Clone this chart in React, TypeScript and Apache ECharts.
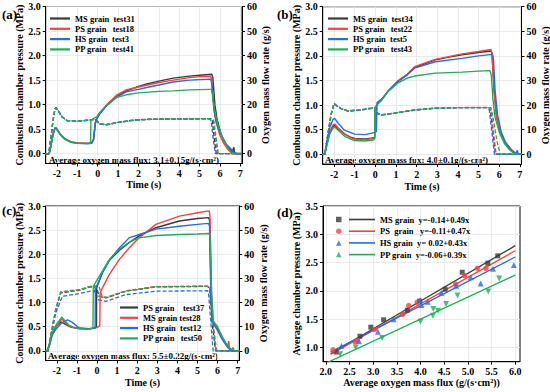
import React, { useEffect, useRef } from 'react';
import * as echarts from 'echarts';

const FONT = '"Liberation Serif", "Times New Roman", serif';
const C_MS = '#3a3a3a';
const C_PS = '#ff3d3d';
const C_HS = '#1f6fe6';
const C_PP = '#1fae55';

// tick values
const timeTicks = [-2, -1, 0, 1, 2, 3, 4, 5, 6, 7];
const pressureTicks = [0, 0.5, 1, 1.5, 2, 2.5, 3];
const flowTicks = [0, 10, 20, 30, 40, 50, 60];
const fluxTicks = [2, 2.5, 3, 3.5, 4, 4.5, 5, 5.5, 6];
const avgPressureTicks = [1, 1.5, 2, 2.5, 3, 3.5];

// ---------- panel (a): 3.1 g/(s·cm²) ----------
const aMS = [[-2.55,0],[-2.38,0],[-2.3,0.15],[-2.2,0.38],[-2.1,0.52],[-2.05,0.53],[-1.95,0.47],[-1.8,0.38],[-1.6,0.3],[-1.3,0.24],[-1.0,0.22],[-0.5,0.21],[-0.3,0.22],[-0.2,0.3],[-0.12,0.62],[-0.05,0.72],[0.1,0.82],[0.45,0.99],[0.95,1.17],[1.4,1.28],[2,1.37],[2.4,1.42],[3,1.48],[3.7,1.54],[4.5,1.58],[5,1.6],[5.6,1.62],[5.65,1.55],[5.75,1.0],[5.85,0.72],[6.05,0.4],[6.25,0.22],[6.4,0.13],[6.6,0.04],[6.68,0.13],[6.72,0.02],[6.85,0],[7.08,0]];
const aPS = [[-2.55,0],[-2.38,0],[-2.3,0.15],[-2.2,0.38],[-2.1,0.52],[-2.05,0.53],[-1.95,0.47],[-1.8,0.38],[-1.6,0.3],[-1.3,0.24],[-1.0,0.22],[-0.5,0.21],[-0.3,0.22],[-0.2,0.3],[-0.12,0.62],[-0.05,0.72],[0.1,0.83],[0.45,1.0],[0.95,1.2],[1.4,1.3],[2,1.36],[3,1.45],[3.7,1.5],[4.5,1.55],[5,1.57],[5.55,1.58],[5.6,1.45],[5.7,0.9],[5.8,0.65],[6.0,0.37],[6.2,0.2],[6.4,0.08],[6.55,0.02],[6.7,0],[7.08,0]];
const aHS = [[-2.55,0],[-2.38,0],[-2.3,0.15],[-2.2,0.38],[-2.1,0.51],[-2.05,0.52],[-1.95,0.46],[-1.8,0.37],[-1.6,0.29],[-1.3,0.23],[-1.0,0.21],[-0.5,0.2],[-0.3,0.21],[-0.2,0.28],[-0.12,0.6],[-0.05,0.7],[0.1,0.81],[0.45,0.98],[0.95,1.16],[1.4,1.26],[2,1.31],[2.4,1.35],[3,1.4],[3.7,1.46],[4.5,1.5],[5,1.51],[5.55,1.52],[5.6,1.42],[5.7,0.92],[5.8,0.68],[6.0,0.42],[6.3,0.2],[6.6,0.07],[6.75,0],[7.08,0]];
const aPP = [[-2.55,0],[-2.38,0],[-2.3,0.14],[-2.2,0.37],[-2.1,0.5],[-2.05,0.51],[-1.95,0.46],[-1.8,0.37],[-1.6,0.29],[-1.3,0.23],[-1.0,0.21],[-0.5,0.21],[-0.35,0.21],[-0.33,0.68],[-0.2,0.72],[-0.05,0.75],[0.1,0.84],[0.45,0.99],[0.95,1.15],[1.4,1.2],[2,1.24],[3,1.27],[3.7,1.28],[4.5,1.3],[5.5,1.31],[5.58,1.31],[5.63,1.2],[5.75,0.85],[5.9,0.6],[6.1,0.35],[6.3,0.18],[6.5,0.05],[6.65,0.01],[7.08,0.01]];
const aMSflow = [[-2.55,0],[-2.4,0],[-2.3,6],[-2.2,13],[-2.1,18],[-2.05,18.9],[-1.95,17.8],[-1.75,15.1],[-1.5,13.5],[-1.0,13.3],[-0.4,13.7],[-0.15,14.1],[-0.05,13.5],[0.12,12.1],[0.45,11.8],[0.95,12.7],[1.75,13.7],[2.6,14.1],[4,14.2],[5.55,14.3],[5.62,13.5],[5.72,6],[5.82,0],[7.08,0]];
const aPSflow = [[-2.55,0],[-2.4,0],[-2.3,6],[-2.2,13],[-2.1,18],[-2.05,18.7],[-1.95,17.6],[-1.75,15],[-1.5,13.4],[-1.0,13.2],[-0.4,13.6],[-0.15,14],[-0.05,13.4],[0.12,12],[0.45,11.8],[0.95,12.6],[1.75,13.6],[2.6,14],[4,14.2],[5.6,14.2],[5.68,13.2],[5.78,6],[5.88,0],[7.08,0]];
const aHSflow = [[-2.55,0],[-2.4,0],[-2.3,6],[-2.2,13],[-2.1,18],[-2.05,18.6],[-1.95,17.6],[-1.75,15],[-1.5,13.4],[-1.0,13.3],[-0.4,13.7],[-0.15,14],[-0.05,13.4],[0.12,12.1],[0.45,11.9],[0.95,12.7],[1.75,13.6],[2.6,14],[4,14.1],[5.5,14.2],[5.57,13.2],[5.67,6],[5.77,0],[7.08,0]];
const aPPflow = [[-2.55,0],[-2.4,0],[-2.3,6],[-2.2,13],[-2.1,18],[-2.05,18.8],[-1.95,17.7],[-1.75,15.1],[-1.5,13.5],[-1.0,13.3],[-0.4,13.7],[-0.15,14.1],[-0.05,13.5],[0.12,12.2],[0.45,11.9],[0.95,12.7],[1.75,13.7],[2.6,14.1],[4,14.2],[5.62,14.3],[5.7,13.3],[5.82,6],[5.92,0],[7.08,0]];

// ---------- panel (b): 4.0 g/(s·cm²) ----------
const bMS = [[-2.55,0],[-2.45,0],[-2.35,0.2],[-2.2,0.45],[-2.05,0.57],[-1.95,0.58],[-1.8,0.52],[-1.5,0.41],[-1.2,0.35],[-1.0,0.32],[-0.5,0.31],[-0.1,0.33],[-0.03,0.35],[0.0,0.95],[0.1,1.02],[0.3,1.1],[0.6,1.27],[1.1,1.48],[1.55,1.62],[1.9,1.76],[2.9,1.92],[3.5,1.97],[4.2,2.02],[5.0,2.07],[5.6,2.1],[5.65,2.05],[5.75,1.3],[5.87,0.77],[6.03,0.46],[6.27,0.26],[6.6,0.09],[6.8,0.01],[7.08,0]];
const bPS = [[-2.55,0],[-2.45,0],[-2.35,0.2],[-2.2,0.46],[-2.05,0.6],[-1.95,0.61],[-1.8,0.54],[-1.5,0.42],[-1.2,0.34],[-1.0,0.31],[-0.5,0.3],[-0.1,0.32],[-0.03,0.34],[0.0,0.95],[0.1,1.02],[0.3,1.1],[0.6,1.28],[1.1,1.5],[1.55,1.63],[1.9,1.78],[2.9,1.93],[3.5,1.98],[4.2,2.04],[5.0,2.09],[5.6,2.13],[5.65,2.06],[5.75,1.3],[5.87,0.76],[6.03,0.45],[6.27,0.25],[6.6,0.08],[6.8,0.01],[7.08,0]];
const bHS = [[-2.55,0],[-2.45,0],[-2.35,0.25],[-2.2,0.55],[-2.05,0.71],[-1.97,0.73],[-1.8,0.63],[-1.5,0.49],[-1.0,0.41],[-0.5,0.4],[-0.15,0.43],[0.05,0.46],[0.08,1.05],[0.3,1.12],[0.6,1.27],[1.1,1.48],[1.55,1.62],[1.9,1.75],[2.9,1.88],[4.2,1.95],[5.0,2.0],[5.68,2.03],[5.72,1.95],[5.8,1.3],[5.92,0.8],[6.1,0.45],[6.35,0.2],[6.6,0.07],[6.8,0.02],[6.88,0.08],[6.92,0],[7.08,0]];
const bPP = [[-2.55,0],[-2.45,0],[-2.35,0.18],[-2.2,0.42],[-2.05,0.53],[-1.95,0.55],[-1.8,0.49],[-1.5,0.37],[-1.2,0.31],[-1.0,0.28],[-0.5,0.27],[-0.1,0.29],[-0.03,0.31],[-0.02,0.95],[0.1,1.01],[0.3,1.1],[0.6,1.27],[1.1,1.45],[1.55,1.55],[1.9,1.59],[2.9,1.65],[4.2,1.67],[5.0,1.69],[5.55,1.7],[5.62,1.6],[5.7,1.1],[5.8,0.75],[6.0,0.45],[6.25,0.22],[6.5,0.09],[6.7,0.02],[7.08,0]];
const bMSflow = [[-2.55,0],[-2.45,0],[-2.3,8],[-2.15,16],[-2.0,20.7],[-1.9,20],[-1.67,18.7],[-1.34,17.6],[-0.7,18.0],[-0.21,18.7],[-0.02,19.0],[0.03,16.7],[0.28,16.0],[0.92,16.7],[1.9,18.0],[2.87,18.7],[4.2,19],[5.5,19.0],[5.57,18],[5.75,5],[5.82,0],[7.08,0]];
const bPSflow = [[-2.55,0],[-2.45,0],[-2.3,8],[-2.15,16],[-2.0,20.5],[-1.9,19.8],[-1.67,18.5],[-1.34,17.5],[-0.7,17.9],[-0.21,18.6],[-0.02,18.9],[0.03,16.6],[0.28,15.9],[0.92,16.6],[1.9,17.9],[2.87,18.6],[4.2,19],[5.5,19.1],[5.6,18],[5.78,5],[5.85,0],[7.08,0]];
const bHSflow = [[-2.55,0],[-2.45,0],[-2.3,8],[-2.15,16],[-2.0,20.4],[-1.9,19.8],[-1.67,18.6],[-1.34,17.6],[-0.7,18.0],[-0.21,18.7],[0.05,19.0],[0.1,16.8],[0.3,16.0],[0.92,16.7],[1.9,18.0],[2.87,18.7],[4.2,19],[5.45,19.0],[5.52,18],[5.7,5],[5.77,0],[7.08,0]];
const bPPflow = [[-2.55,0],[-2.45,0],[-2.3,8],[-2.15,16],[-2.0,20.6],[-1.9,19.9],[-1.67,18.7],[-1.34,17.7],[-0.7,18.1],[-0.21,18.8],[-0.03,19.0],[0.02,16.8],[0.28,16.1],[0.92,16.8],[1.9,18.1],[2.87,18.8],[4.2,19],[5.6,19.0],[5.7,15],[5.9,5],[6.05,0],[7.08,0]];

// ---------- panel (c): 5.5 g/(s·cm²) ----------
const cPS = [[-2.55,0],[-2.47,0],[-2.35,0.15],[-2.22,0.37],[-2.0,0.52],[-1.8,0.6],[-1.65,0.57],[-1.4,0.51],[-1.2,0.48],[-0.9,0.46],[-0.4,0.45],[-0.1,0.47],[-0.03,0.5],[-0.02,1.3],[0.27,1.62],[0.61,1.87],[1.11,2.08],[1.6,2.24],[2.1,2.38],[2.93,2.55],[4.1,2.69],[5.0,2.74],[5.55,2.76],[5.6,2.7],[5.68,1.2],[5.75,0.6],[6.0,0.47],[6.25,0.26],[6.5,0.09],[6.75,0],[7.08,0]];
const cMS = [[-2.55,0],[-2.47,0],[-2.35,0.15],[-2.22,0.37],[-2.0,0.52],[-1.75,0.66],[-1.6,0.6],[-1.4,0.52],[-1.2,0.49],[-0.9,0.46],[-0.4,0.46],[0.0,0.48],[0.14,0.52],[0.16,1.2],[0.27,1.3],[0.61,1.58],[1.11,1.89],[1.6,2.13],[2.1,2.34],[2.93,2.62],[4.1,2.79],[5.0,2.86],[5.58,2.9],[5.62,2.8],[5.7,1.2],[5.78,0.6],[6.0,0.45],[6.25,0.26],[6.5,0.09],[6.55,0.2],[6.6,0.03],[6.8,0],[7.08,0]];
const cHS = [[-2.55,0],[-2.47,0],[-2.35,0.12],[-2.22,0.33],[-2.0,0.47],[-1.72,0.59],[-1.47,0.64],[-1.22,0.59],[-0.9,0.48],[-0.4,0.46],[-0.15,0.47],[-0.09,0.5],[-0.08,1.27],[0.27,1.62],[0.61,1.88],[1.11,2.13],[1.6,2.34],[2.1,2.41],[2.93,2.52],[4.1,2.58],[5.0,2.62],[5.55,2.64],[5.6,2.58],[5.66,1.2],[5.73,0.6],[6.0,0.42],[6.25,0.22],[6.5,0.07],[6.7,0],[7.08,0]];
const cPP = [[-2.55,0],[-2.47,0],[-2.35,0.17],[-2.22,0.4],[-2.0,0.56],[-1.75,0.7],[-1.6,0.63],[-1.4,0.53],[-1.2,0.49],[-0.9,0.46],[-0.4,0.45],[-0.2,0.47],[-0.18,1.34],[0.27,1.65],[0.61,1.89],[1.11,2.1],[1.6,2.25],[2.1,2.34],[2.93,2.39],[4.1,2.41],[5.0,2.42],[5.6,2.43],[5.63,2.35],[5.7,1.2],[5.78,0.62],[6.0,0.5],[6.25,0.28],[6.5,0.1],[6.7,0.02],[6.78,0.07],[6.82,0],[7.08,0]];
const cPSflow = [[-2.55,0],[-2.42,0],[-2.3,6],[-2.05,17],[-1.8,24],[-0.89,25.1],[-0.22,26.7],[-0.05,26.7],[0.11,22.6],[0.44,21.9],[1.44,24.7],[2.93,26.5],[5.5,26.7],[5.6,26],[5.75,10],[5.9,0],[7.08,0]];
const cMSflow = [[-2.55,0],[-2.42,0],[-2.3,6],[-2.05,17.2],[-1.8,24.2],[-0.89,25.2],[-0.22,26.8],[0.1,26.8],[0.25,22.6],[0.5,22],[1.44,24.8],[2.93,26.6],[5.55,26.7],[5.62,26],[5.8,10],[5.95,0],[7.08,0]];
const cHSflow = [[-2.55,0],[-2.42,0],[-2.3,5],[-2.05,15.7],[-1.72,22.6],[-0.89,23.7],[-0.14,25.1],[0.03,21.2],[0.44,20.5],[1.44,23.3],[2.93,24.7],[5.5,24.9],[5.55,24],[5.7,8],[5.78,0],[7.08,0]];
const cPPflow = [[-2.55,0],[-2.42,0],[-2.3,6.5],[-2.05,17.5],[-1.8,24.5],[-0.89,25.4],[-0.22,27],[-0.15,27],[0.0,22.8],[0.44,22.1],[1.44,24.9],[2.93,26.6],[5.55,26.8],[5.62,26],[5.78,10],[5.92,0],[7.08,0]];

// ---------- panel (d): average pressure vs flux ----------
const dMS = [[2.22,0.92],[2.72,1.2],[2.95,1.36],[3.22,1.49],[3.72,1.66],[3.98,1.82],[4.52,2.03],[4.88,2.33],[5.42,2.49],[5.63,2.62]];
const dPS = [[2.15,0.96],[2.62,1.1],[2.66,1.13],[3.03,1.32],[3.62,1.59],[3.75,1.74],[3.93,1.8],[4.74,2.12],[4.93,2.27],[5.2,2.4],[5.38,2.4]];
const dHS = [[2.33,1.03],[2.7,1.11],[3.1,1.28],[3.43,1.5],[3.99,1.84],[4.02,1.75],[4.15,1.81],[4.44,1.97],[4.75,2.09],[5.06,2.24],[5.27,2.13],[5.53,2.39],[5.97,2.46]];
const dPP = [[2.3,0.88],[2.63,1.0],[3.19,1.17],[4.0,1.46],[4.26,1.56],[4.27,1.68],[4.37,1.65],[4.54,1.77],[4.78,1.92],[5.43,1.99],[5.66,2.22]];
const dFitMS = [[2.1,0.89],[6.0,2.8]];
const dFitPS = [[2.1,0.88],[6.0,2.71]];
const dFitHS = [[2.1,0.92],[6.0,2.6]];
const dFitPP = [[1.94,0.7],[6.0,2.28]];

const labelStyle = { fontFamily: FONT, fontWeight: 'bold' as const, fontSize: 10, color: '#000' };
const nameStyle = { fontFamily: FONT, fontWeight: 'bold' as const, fontSize: 10, color: '#000' };
const gridLine = { show: true, lineStyle: { color: '#e4e4e4', width: 0.8 } };
const blackLine = { show: true, onZero: false, lineStyle: { color: '#000', width: 1 } };

function timeAxis(gridIndex: number, nameGap: number) {
  return {
    type: 'value', gridIndex, min: -2.55, max: 7.08,
    axisLine: blackLine,
    axisTick: { show: true, inside: false, length: 3, customValues: timeTicks, lineStyle: { color: '#000' } },
    axisLabel: { ...labelStyle, customValues: timeTicks, margin: 5 },
    splitLine: gridLine,
    name: 'Time (s)', nameLocation: 'middle', nameGap, nameTextStyle: nameStyle,
  };
}
function pressureAxis(gridIndex: number, nameGap: number) {
  return {
    type: 'value', gridIndex, position: 'left', min: -0.2, max: 3,
    axisLine: blackLine,
    axisTick: { show: true, inside: false, length: 3, customValues: pressureTicks, lineStyle: { color: '#000' } },
    axisLabel: { ...labelStyle, customValues: pressureTicks, margin: 5, formatter: (v: number) => v.toFixed(1) },
    splitLine: gridLine,
    name: 'Combustion chamber pressure (MPa)', nameLocation: 'middle', nameGap, nameTextStyle: nameStyle,
  };
}
function flowAxis(gridIndex: number, nameGap: number) {
  return {
    type: 'value', gridIndex, position: 'right', min: -4, max: 60,
    axisLine: blackLine,
    axisTick: { show: true, inside: false, length: 3, customValues: flowTicks, lineStyle: { color: '#000' } },
    axisLabel: { ...labelStyle, customValues: flowTicks, margin: 5, formatter: (v: number) => String(Math.round(v)) },
    splitLine: { show: false },
    name: 'Oxygen mass flow rate (g/s)', nameLocation: 'middle', nameGap, nameRotate: 90, nameTextStyle: nameStyle,
  };
}

function solid(name: string, data: number[][], xi: number, yi: number, color: string, width = 1.4) {
  return {
    type: 'line', name, data, xAxisIndex: xi, yAxisIndex: yi, showSymbol: false, symbol: 'none',
    lineStyle: { color, width }, itemStyle: { color }, emphasis: { disabled: true }, silent: true, z: 4,
  };
}
function dashed(name: string, data: number[][], xi: number, yi: number, color: string) {
  return {
    type: 'line', name, data, xAxisIndex: xi, yAxisIndex: yi, showSymbol: false, symbol: 'none',
    lineStyle: { color, width: 1.3, type: [4, 2] }, itemStyle: { color }, emphasis: { disabled: true }, silent: true, z: 3,
  };
}
function pts(name: string, data: number[][], symbol: string, size: number, color: string, rotate = 0) {
  return {
    type: 'scatter', name, data, xAxisIndex: 3, yAxisIndex: 6, symbol, symbolSize: size, symbolRotate: rotate,
    itemStyle: { color }, emphasis: { disabled: true }, silent: true, z: 5,
  };
}

const legendText = { fontFamily: FONT, fontWeight: 'bold' as const, fontSize: 8.5, color: '#000' };
const lineLegend = { orient: 'vertical', icon: 'rect', itemWidth: 20, itemHeight: 2.2, itemGap: 1.3, textStyle: legendText, selectedMode: false };

export default function App() {
  const ref = useRef<HTMLDivElement>(null);
  useEffect(() => {
    if (!ref.current) return;
    const chart = echarts.init(ref.current, undefined, { renderer: 'svg' });
    const gridBase = { show: true, borderColor: '#000', borderWidth: 1, backgroundColor: 'transparent', containLabel: false, outerBoundsMode: 'none' };
    const option: any = {
      animation: false,
      textStyle: { fontFamily: FONT },
      grid: [
        { ...gridBase, left: 45.7, top: 6.5, width: 196.3, height: 157 },
        { ...gridBase, left: 322.7, top: 6.7, width: 198.8, height: 157.4 },
        { ...gridBase, left: 45.7, top: 206, width: 193.6, height: 154.5 },
        { ...gridBase, left: 323, top: 206, width: 197, height: 155.7 },
      ],
      xAxis: [
        timeAxis(0, 16),
        timeAxis(1, 17),
        timeAxis(2, 17),
        {
          type: 'value', gridIndex: 3, min: 1.94, max: 6.1,
          axisLine: blackLine,
          axisTick: { show: true, inside: false, length: 3, customValues: fluxTicks, lineStyle: { color: '#000' } },
          axisLabel: { ...labelStyle, customValues: fluxTicks, margin: 5, formatter: (v: number) => v.toFixed(1) },
          splitLine: gridLine,
          name: 'Average oxygen mass flux (g/(s·cm²))', nameLocation: 'middle', nameGap: 16, nameTextStyle: nameStyle,
        },
      ],
      yAxis: [
        pressureAxis(0, 18), flowAxis(0, 15),
        pressureAxis(1, 19), flowAxis(1, 15),
        pressureAxis(2, 18), flowAxis(2, 18),
        {
          type: 'value', gridIndex: 3, min: 0.75, max: 3.5,
          axisLine: blackLine,
          axisTick: { show: true, inside: false, length: 3, customValues: avgPressureTicks, lineStyle: { color: '#000' } },
          axisLabel: { ...labelStyle, customValues: avgPressureTicks, margin: 5, formatter: (v: number) => v.toFixed(1) },
          splitLine: gridLine,
          name: 'Average chamber pressure (MPa)', nameLocation: 'middle', nameGap: 19, nameTextStyle: nameStyle,
        },
      ],
      legend: [
        { ...lineLegend, left: 45, top: 9, data: ['MS grain  test31', 'PS grain   test18', 'HS grain  test3', 'PP grain   test41'] },
        { ...lineLegend, left: 323, top: 9, data: ['MS grain  test34', 'PS grain   test22', 'HS grain  test5', 'PP grain   test43'] },
        { ...lineLegend, left: 115, top: 298, itemWidth: 18, data: ['PS grain    test37', 'MS grain test28', 'HS grain  test12', 'PP grain   test50'] },
        { left: 331, top: 210, orient: 'vertical', itemWidth: 5.5, itemHeight: 5.5, itemGap: 2.7, textStyle: legendText, selectedMode: false,
          formatter: () => ' ', data: ['MS', 'PS', 'HS', 'PP'] },
        { ...lineLegend, left: 344, top: 210, itemWidth: 26, itemHeight: 1.6, itemGap: 2.7,
          data: ['MS grain  y=-0.14+0.49x', 'PS  grain   y=-0.11+0.47x', 'HS grain  y= 0.02+0.43x', 'PP grain  y=-0.06+0.39x'] },
      ],
      graphic: [
        { type: 'text', x: 2, y: 14, style: { text: '(a)', fontFamily: FONT, fontWeight: 'bold', fontSize: 13, fill: '#000', verticalAlign: 'middle' } },
        { type: 'text', x: 277, y: 14, style: { text: '(b)', fontFamily: FONT, fontWeight: 'bold', fontSize: 13, fill: '#000', verticalAlign: 'middle' } },
        { type: 'text', x: 2, y: 210, style: { text: '(c)', fontFamily: FONT, fontWeight: 'bold', fontSize: 13, fill: '#000', verticalAlign: 'middle' } },
        { type: 'text', x: 277, y: 212, style: { text: '(d)', fontFamily: FONT, fontWeight: 'bold', fontSize: 13, fill: '#000', verticalAlign: 'middle' } },
        { type: 'text', x: 49, y: 159.5, style: { text: 'Average oxygen mass flux: 3.1±0.15g/(s·cm²)', fontFamily: FONT, fontWeight: 'bold', fontSize: 9, fill: '#000', verticalAlign: 'middle' } },
        { type: 'text', x: 325, y: 160, style: { text: 'Average oxygen mass fux: 4.0±0.1g/(s·cm²)', fontFamily: FONT, fontWeight: 'bold', fontSize: 9, fill: '#000', verticalAlign: 'middle' } },
        { type: 'text', x: 48, y: 356, style: { text: 'Average oxygen mass flux: 5.5±0.22g/(s·cm²)', fontFamily: FONT, fontWeight: 'bold', fontSize: 9, fill: '#000', verticalAlign: 'middle' } },
      ],
      series: [
        dashed('a MS flow', aMSflow, 0, 1, C_MS), dashed('a PS flow', aPSflow, 0, 1, C_PS),
        dashed('a HS flow', aHSflow, 0, 1, C_HS), dashed('a PP flow', aPPflow, 0, 1, C_PP),
        solid('MS grain  test31', aMS, 0, 0, C_MS), solid('PS grain   test18', aPS, 0, 0, C_PS),
        solid('HS grain  test3', aHS, 0, 0, C_HS), solid('PP grain   test41', aPP, 0, 0, C_PP),

        dashed('b MS flow', bMSflow, 1, 3, C_MS), dashed('b PS flow', bPSflow, 1, 3, C_PS),
        dashed('b HS flow', bHSflow, 1, 3, C_HS), dashed('b PP flow', bPPflow, 1, 3, C_PP),
        solid('MS grain  test34', bMS, 1, 2, C_MS), solid('PS grain   test22', bPS, 1, 2, C_PS),
        solid('HS grain  test5', bHS, 1, 2, C_HS), solid('PP grain   test43', bPP, 1, 2, C_PP),

        dashed('c PS flow', cPSflow, 2, 5, C_MS), dashed('c MS flow', cMSflow, 2, 5, C_PS),
        dashed('c HS flow', cHSflow, 2, 5, C_HS), dashed('c PP flow', cPPflow, 2, 5, C_PP),
        solid('PS grain    test37', cPS, 2, 4, C_MS), solid('MS grain test28', cMS, 2, 4, C_PS),
        solid('HS grain  test12', cHS, 2, 4, C_HS), solid('PP grain   test50', cPP, 2, 4, C_PP),

        solid('MS grain  y=-0.14+0.49x', dFitMS, 3, 6, C_MS, 1.3),
        solid('PS  grain   y=-0.11+0.47x', dFitPS, 3, 6, C_PS, 1.3),
        solid('HS grain  y= 0.02+0.43x', dFitHS, 3, 6, C_HS, 1.3),
        solid('PP grain  y=-0.06+0.39x', dFitPP, 3, 6, C_PP, 1.3),
        pts('MS', dMS, 'rect', 5, C_MS),
        pts('PS', dPS, 'circle', 5.5, C_PS),
        pts('HS', dHS, 'triangle', 6, C_HS),
        pts('PP', dPP, 'triangle', 6, C_PP, 180),
      ],
    };
    chart.setOption(option);
    return () => chart.dispose();
  }, []);
  return <div ref={ref} style={{ position: 'fixed', left: 0, top: 0, width: 550, height: 392, background: '#fff' }} />;
}
